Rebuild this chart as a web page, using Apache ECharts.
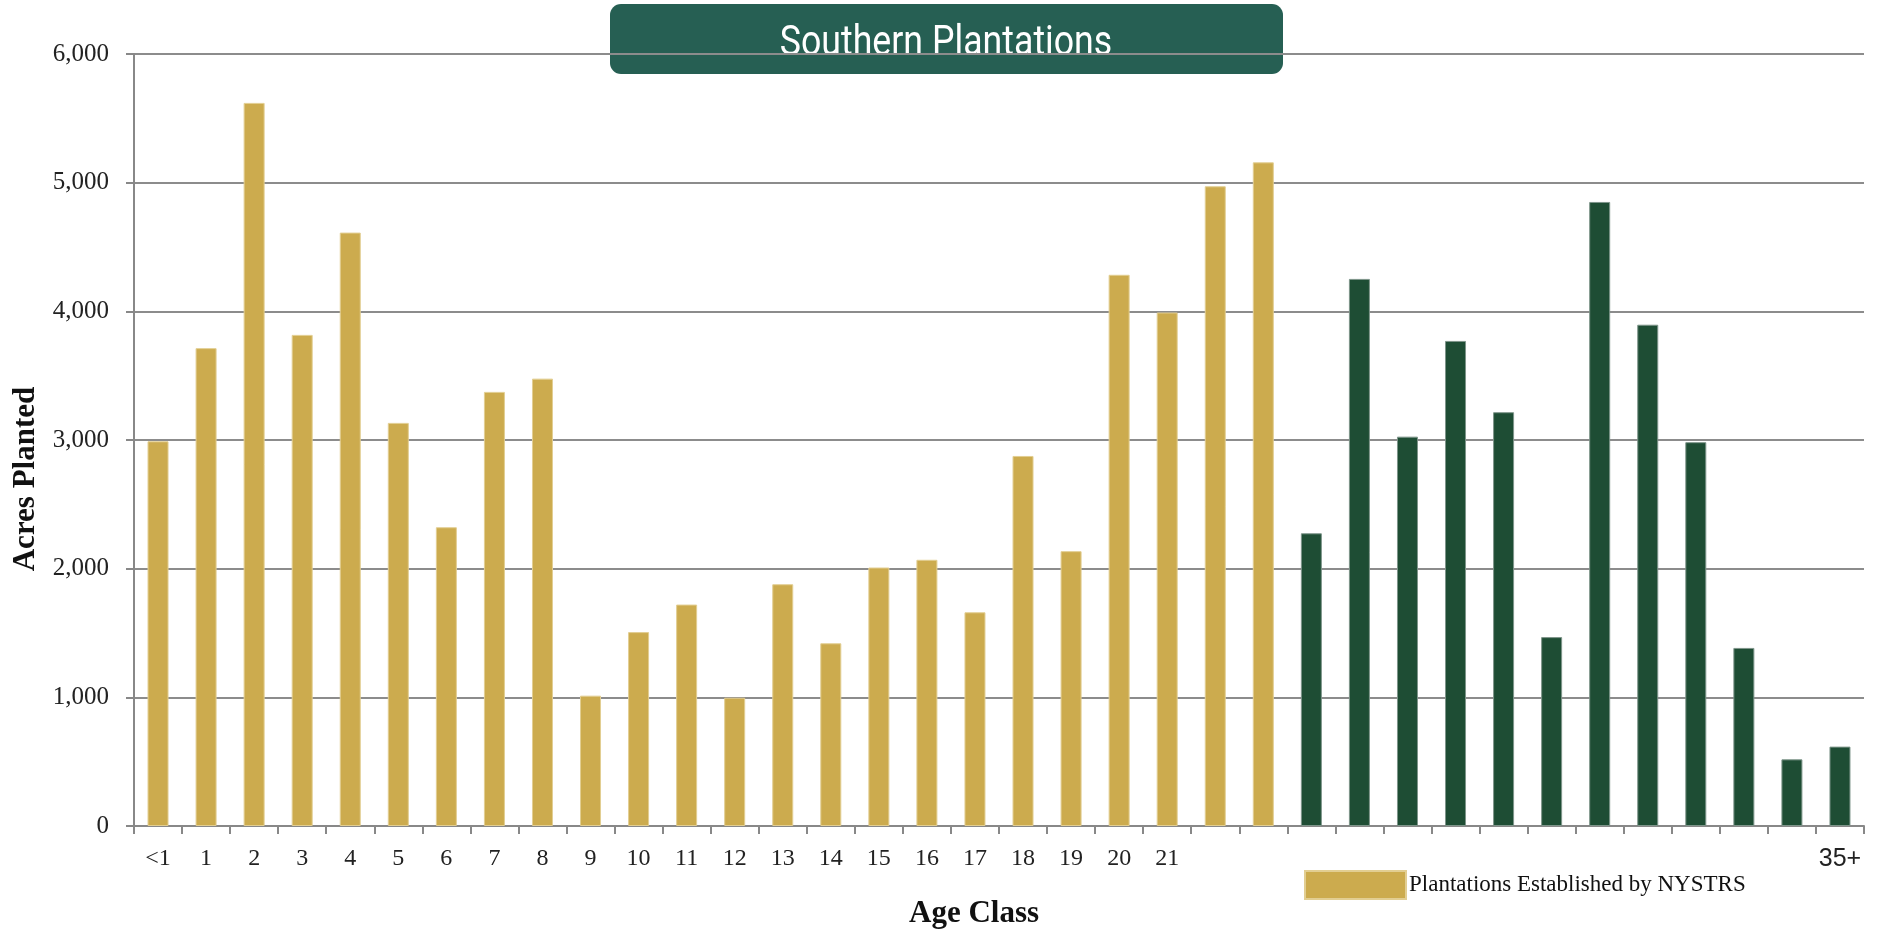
<!DOCTYPE html>
<html>
<head>
<meta charset="utf-8">
<script src="https://cdn.jsdelivr.net/npm/echarts@6/dist/echarts.min.js"></script>
<style>
html,body{margin:0;padding:0;background:#fff;}
#chart{width:1879px;height:934px;}
</style>
</head>
<body>
<div id="chart"></div>
<script>
// Categories (age classes)
var categories = ['<1','1','2','3','4','5','6','7','8','9','10','11','12','13','14','15','16','17','18','19','20','21','22','23','24','25','26','27','28','29','30','31','32','33','34','35+'];
// Tick labels as shown on the chart
var tickLabels = ['<1','1','2','3','4','5','6','7','8','9','10','11','12','13','14','15','16','17','18','19','20','21','','','','','','','','','','','','','','35+'];
// Plantations established by NYSTRS (age <1 .. 23)
var nystrsValues = [2990,3714,5620,3817,4612,3133,2322,3374,3477,1013,1507,1721,997,1879,1420,2009,2069,1661,2876,2136,4284,3991,4972,5158,'-','-','-','-','-','-','-','-','-','-','-','-'];
// Older plantations (age 24 .. 35+)
var olderValues = ['-','-','-','-','-','-','-','-','-','-','-','-','-','-','-','-','-','-','-','-','-','-','-','-',2275,4252,3026,3770,3216,1468,4850,3896,2983,1384,518,617];
var yTicks = [0,1000,2000,3000,4000,5000,6000];

var chart = echarts.init(document.getElementById('chart'));
var serif = '"Liberation Serif", "DejaVu Serif", serif';
var option = {
  animation: false,
  backgroundColor: '#ffffff',
  grid: {left: 134, right: 15, top: 54, bottom: 106, containLabel: false},
  legend: {
    data: ['Plantations Established by NYSTRS'],
    left: 1299, top: 865,
    itemWidth: 101, itemHeight: 28,
    icon: 'rect',
    textStyle: {fontFamily: serif, fontSize: 23, color: '#111', padding: [0,0,0,-2]}
  },
  xAxis: {
    type: 'category',
    data: categories,
    name: 'Age Class',
    nameLocation: 'middle',
    nameGap: 72,
    nameTextStyle: {fontFamily: serif, fontWeight: 'bold', fontSize: 31, color: '#111', padding: [0,50,0,0]},
    axisLine: {lineStyle: {color: '#888', width: 2}},
    axisTick: {show: true, length: 8, lineStyle: {color: '#888', width: 2}},
    axisLabel: {
      interval: 0, margin: 21,
      fontFamily: serif, fontSize: 24, color: '#222',
      formatter: function (v, i) {
        var t = tickLabels[i];
        if (t === '35+') return '{s|35+}';
        return t;
      },
      rich: {s: {fontFamily: '"Liberation Sans", Arial, sans-serif', fontSize: 25, color: '#222'}}
    }
  },
  yAxis: {
    type: 'value',
    min: yTicks[0], max: yTicks[yTicks.length-1], interval: 1000,
    name: 'Acres Planted',
    nameLocation: 'middle',
    nameGap: 92,
    nameTextStyle: {fontFamily: serif, fontWeight: 'bold', fontSize: 31, color: '#111', padding: [0,78,0,0]},
    axisLine: {show: true, lineStyle: {color: '#888', width: 2}},
    axisTick: {show: true, length: 8, lineStyle: {color: '#888', width: 2}},
    splitLine: {lineStyle: {color: '#8c8c8c', width: 2}},
    axisLabel: {
      margin: 25, fontFamily: serif, fontSize: 25, color: '#222',
      formatter: function (v) { return v.toLocaleString('en-US'); }
    }
  },
  series: [
    {
      name: 'Plantations Established by NYSTRS',
      type: 'bar', stack: 'all',
      barWidth: 21,
      data: nystrsValues,
      itemStyle: {color: '#CCAB4E', borderColor: '#E2CE92', borderWidth: 1}
    },
    {
      name: 'Older Plantations',
      type: 'bar', stack: 'all',
      barWidth: 21,
      data: olderValues,
      itemStyle: {color: '#1E4D34', borderColor: '#7E958A', borderWidth: 1}
    }
  ],
  graphic: [
    {
      type: 'group', z: 100,
      children: [
        {type: 'rect', shape: {x: 610, y: 4, width: 673, height: 70, r: 11}, style: {fill: '#265F53'}},
        {type: 'text', x: 946, y: 44, scaleX: 0.85,
         style: {text: 'Southern Plantations', x: 0, y: 0, align: 'center', verticalAlign: 'middle',
                 fontFamily: 'Roboto, "Noto Sans", sans-serif', fontSize: 42, fill: '#ffffff'}}
      ]
    }
  ]
};
chart.setOption(option);
</script>
</body>
</html>
